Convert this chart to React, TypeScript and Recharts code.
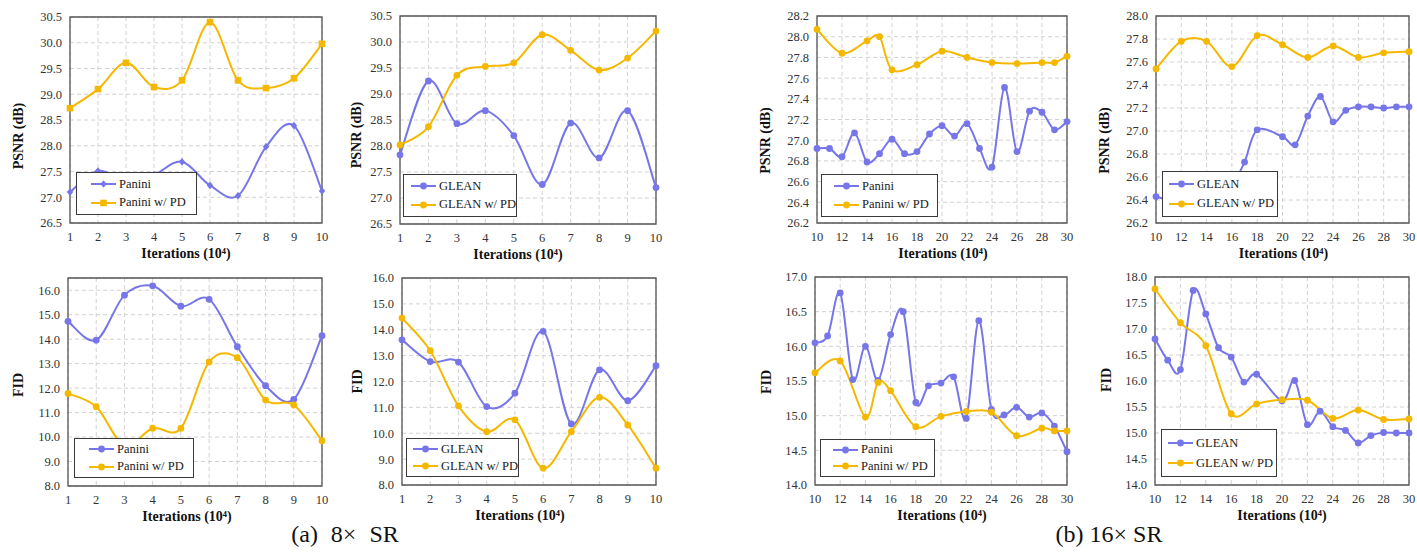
import { LineChart, Line, XAxis, YAxis, CartesianGrid, ReferenceArea, Legend } from "recharts";

const SERIF = '"Liberation Serif", "Times New Roman", serif';
const BLUE = "#7676E8";
const GOLD = "#F5B800";

// (a) 8x SR, iterations 1..10 (x10^4)
const ITER_8X = [1, 2, 3, 4, 5, 6, 7, 8, 9, 10];
const PANINI_8X_PSNR = [27.1, 27.51, 27.32, 27.44, 27.69, 27.23, 27.03, 27.98, 28.39, 27.12];
const PANINI_PD_8X_PSNR = [28.73, 29.1, 29.61, 29.14, 29.27, 30.4, 29.27, 29.12, 29.31, 29.98];
const GLEAN_8X_PSNR = [27.83, 29.25, 28.43, 28.68, 28.2, 27.26, 28.44, 27.77, 28.68, 27.2];
const GLEAN_PD_8X_PSNR = [28.02, 28.37, 29.36, 29.53, 29.6, 30.14, 29.84, 29.46, 29.69, 30.21];
const PANINI_8X_FID = [14.73, 13.96, 15.8, 16.18, 15.35, 15.63, 13.69, 12.1, 11.54, 14.14];
const PANINI_PD_8X_FID = [11.78, 11.24, 9.65, 10.36, 10.36, 13.07, 13.24, 11.51, 11.31, 9.85];
const GLEAN_8X_FID = [13.61, 12.77, 12.75, 11.03, 11.55, 13.94, 10.36, 12.45, 11.26, 12.61];
const GLEAN_PD_8X_FID = [14.45, 13.19, 11.06, 10.06, 10.52, 8.65, 10.06, 11.39, 10.32, 8.65];

// (b) 16x SR, iterations 10..30 (x10^4)
const ITER_16X = [10, 11, 12, 13, 14, 15, 16, 17, 18, 19, 20, 21, 22, 23, 24, 25, 26, 27, 28, 29, 30];
const PANINI_16X_PSNR = [26.92, 26.92, 26.84, 27.07, 26.79, 26.87, 27.01, 26.87, 26.89, 27.06, 27.14, 27.04, 27.16, 26.92, 26.74, 27.51, 26.89, 27.28, 27.27, 27.1, 27.18];
const PANINI_PD_16X_PSNR = [28.07, null, 27.84, null, 27.96, 28.0, 27.68, null, 27.73, null, 27.86, null, 27.8, null, 27.75, null, 27.74, null, 27.75, 27.75, 27.81];
const GLEAN_16X_PSNR = [26.43, 26.4, 26.38, 26.42, 26.45, 26.49, 26.53, 26.73, 27.01, null, 26.95, 26.88, 27.13, 27.3, 27.08, 27.18, 27.21, 27.21, 27.2, 27.21, 27.21];
const GLEAN_PD_16X_PSNR = [27.54, null, 27.78, null, 27.78, null, 27.56, null, 27.83, null, 27.75, null, 27.64, null, 27.74, null, 27.64, null, 27.68, null, 27.69];
const PANINI_16X_FID = [16.05, 16.15, 16.77, 15.52, 16.0, 15.51, 16.17, 16.5, 15.19, 15.43, 15.47, 15.56, 14.96, 16.37, 15.09, 15.01, 15.12, 14.98, 15.04, 14.85, 14.48];
const PANINI_PD_16X_FID = [15.62, null, 15.79, null, 14.98, 15.48, 15.36, null, 14.84, null, 14.99, null, 15.06, null, 15.05, null, 14.71, null, 14.82, 14.78, 14.78];
const GLEAN_16X_FID = [16.81, 16.4, 16.22, 17.74, 17.29, 16.64, 16.46, 15.98, 16.13, null, 15.62, 16.01, 15.16, 15.42, 15.12, 15.05, 14.81, 14.95, 15.01, 15.0, 15.0];
const GLEAN_PD_16X_FID = [17.77, null, 17.12, null, 16.68, null, 15.37, null, 15.56, null, 15.64, null, 15.63, null, 15.28, null, 15.44, null, 15.26, null, 15.27];

// tick labels
const ITER_16X_TICKS = [10, 12, 14, 16, 18, 20, 22, 24, 26, 28, 30];
const PSNR_8X_TICKS = [26.5, 27, 27.5, 28, 28.5, 29, 29.5, 30, 30.5];
const FID_8X_TICKS = [8, 9, 10, 11, 12, 13, 14, 15, 16];
const PANINI_PSNR_16X_TICKS = [26.2, 26.4, 26.6, 26.8, 27, 27.2, 27.4, 27.6, 27.8, 28, 28.2];
const GLEAN_PSNR_16X_TICKS = [26.2, 26.4, 26.6, 26.8, 27, 27.2, 27.4, 27.6, 27.8, 28];
const PANINI_FID_16X_TICKS = [14, 14.5, 15, 15.5, 16, 16.5, 17];
const GLEAN_FID_16X_TICKS = [14, 14.5, 15, 15.5, 16, 16.5, 17, 17.5, 18];

// Excel-like smoothed line (Catmull-Rom through the points)
const smooth = (context: any) => {
  let pts: number[][] = [];
  return {
    areaStart() {},
    areaEnd() {},
    lineStart() {
      pts = [];
    },
    lineEnd() {
      const n = pts.length;
      if (!n) return;
      context.moveTo(pts[0][0], pts[0][1]);
      for (let i = 0; i < n - 1; i++) {
        const p0 = pts[Math.max(i - 1, 0)];
        const p1 = pts[i];
        const p2 = pts[i + 1];
        const p3 = pts[Math.min(i + 2, n - 1)];
        context.bezierCurveTo(
          p1[0] + (p2[0] - p0[0]) / 6, p1[1] + (p2[1] - p0[1]) / 6,
          p2[0] - (p3[0] - p1[0]) / 6, p2[1] - (p3[1] - p1[1]) / 6,
          p2[0], p2[1]
        );
      }
    },
    point(x: number, y: number) {
      pts.push([+x, +y]);
    },
  };
};

type Shape = "circle" | "square" | "diamond";
type Series = { key: string; name: string; color: string; shape: Shape; values: (number | null)[] };

function Marker({ shape, cx, cy, color }: { shape: Shape; cx: number; cy: number; color: string }) {
  if (shape === "square") return <rect x={cx - 3.3} y={cy - 3.3} width={6.6} height={6.6} fill={color} />;
  if (shape === "diamond")
    return <polygon points={`${cx},${cy - 3.8} ${cx + 3.2},${cy} ${cx},${cy + 3.8} ${cx - 3.2},${cy}`} fill={color} />;
  return <circle cx={cx} cy={cy} r={3.4} fill={color} />;
}

function LegendBox({ series, w, h, pad }: { series: Series[]; w: number; h: number; pad: number }) {
  return (
    <div
      style={{
        boxSizing: "border-box", width: w, height: h, border: "1.3px solid #3a3a3a", background: "#fff",
        paddingLeft: pad, display: "flex", flexDirection: "column", justifyContent: "space-evenly",
        fontFamily: SERIF, fontSize: 12.5, color: "#1a1a1a",
      }}
    >
      {series.map((s) => (
        <div key={s.key} style={{ display: "flex", alignItems: "center", height: 14 }}>
          <svg width={25} height={10} style={{ marginRight: 3, flex: "none" }}>
            <line x1={0} y1={5} x2={25} y2={5} stroke={s.color} strokeWidth={2} />
            <Marker shape={s.shape} cx={12.5} cy={5} color={s.color} />
          </svg>
          <span style={{ whiteSpace: "nowrap" }}>{s.name}</span>
        </div>
      ))}
    </div>
  );
}

type PanelProps = {
  plot: { x: number; y: number; w: number; h: number };
  xs: number[];
  xTicks: number[];
  yDomain: number[];
  yTicks: number[];
  yTitle: string;
  yTitleOffset: number;
  yTitleDy: number;
  xTitleDx: number;
  series: Series[];
  legend: { x: number; y: number; w: number; h: number; pad: number };
};

const L = 70, T = 10, R = 12, B = 44;
const TICK = { fontSize: 12.5, fontFamily: SERIF, fill: "#333" };
const TITLE = { fontSize: 14, fontFamily: SERIF, fontWeight: 700, fill: "#111" };

function Panel({ plot, xs, xTicks, yDomain, yTicks, yTitle, yTitleOffset, yTitleDy, xTitleDx, series, legend }: PanelProps) {
  const rows = xs.map((x, i) => {
    const r: Record<string, number | null> = { x };
    series.forEach((s) => (r[s.key] = s.values[i]));
    return r;
  });
  const left = plot.x - L;
  const top = plot.y - T;
  const xMin = xTicks[0];
  const xMax = xTicks[xTicks.length - 1];

  return (
    <div style={{ position: "absolute", left, top }}>
      <LineChart width={plot.w + L + R} height={plot.h + T + B} data={rows} margin={{ top: T, right: R, bottom: 0, left: 0 }}>
        <CartesianGrid stroke="#d2d2d2" strokeDasharray="4 3" />
        <XAxis
          dataKey="x" type="number" domain={[xMin, xMax]} ticks={xTicks} interval={0} height={B}
          axisLine={false} tickLine={false} tickSize={6} tickMargin={3} tick={TICK}
          label={{
            content: () => (
              <text x={L + plot.w / 2 + xTitleDx} y={T + plot.h + 30} textAnchor="middle" dominantBaseline="central" style={TITLE}>
                Iterations (10⁴)
              </text>
            ),
          }}
        />
        <YAxis
          type="number" domain={yDomain} ticks={yTicks} interval={0} width={L}
          axisLine={false} tickLine={false} tickSize={6} tickMargin={2} tick={TICK}
          tickFormatter={(v: number) => v.toFixed(1)}
          label={{
            content: () => {
              const cx = L - yTitleOffset;
              const cy = T + plot.h / 2 + yTitleDy;
              return (
                <text x={cx} y={cy} transform={`rotate(-90 ${cx} ${cy})`} textAnchor="middle" dominantBaseline="central" style={TITLE}>
                  {yTitle}
                </text>
              );
            },
          }}
        />
        <ReferenceArea x1={xMin} x2={xMax} y1={yDomain[0]} y2={yDomain[1]} fill="none" stroke="#555" strokeWidth={1.3} ifOverflow="visible" />
        {series.map((s) => (
          <Line
            key={s.key}
            dataKey={s.key}
            name={s.name}
            type={smooth as any}
            stroke={s.color}
            strokeWidth={2}
            connectNulls
            isAnimationActive={false}
            activeDot={false}
            dot={(p: any) =>
              p.value == null || p.cx == null || p.cy == null ? (
                <g key={p.index} />
              ) : (
                <Marker key={p.index} shape={s.shape} cx={p.cx} cy={p.cy} color={s.color} />
              )
            }
          />
        ))}
        <Legend
          layout="vertical"
          align="center"
          verticalAlign="middle"
          wrapperStyle={{ left: legend.x - left, top: legend.y - top, width: legend.w, height: legend.h }}
          content={() => <LegendBox series={series} w={legend.w} h={legend.h} pad={legend.pad} />}
        />
      </LineChart>
    </div>
  );
}

const pair = (
  a: string, b: string, av: (number | null)[], bv: (number | null)[], shapes: Shape[] = ["circle", "circle"]
): Series[] => [
  { key: "base", name: a, color: BLUE, shape: shapes[0], values: av },
  { key: "pd", name: b, color: GOLD, shape: shapes[1], values: bv },
];

const CAPTION = { position: "absolute" as const, width: 240, top: 521, textAlign: "center" as const, fontFamily: SERIF, fontSize: 24, lineHeight: "26px", color: "#111" };

export default function App() {
  return (
    <div style={{ position: "absolute", left: 0, top: 0, width: 1417, height: 552, background: "#fff", overflow: "hidden" }}>
      <Panel
        plot={{ x: 70, y: 17, w: 252, h: 206 }} xs={ITER_8X} xTicks={ITER_8X}
        yDomain={[26.5, 30.5]} yTicks={PSNR_8X_TICKS} yTitle="PSNR (dB)" yTitleOffset={52} yTitleDy={16} xTitleDx={-10}
        series={pair("Panini", "Panini w/ PD", PANINI_8X_PSNR, PANINI_PD_8X_PSNR, ["diamond", "square"])}
        legend={{ x: 76, y: 172, w: 121, h: 43, pad: 14 }}
      />
      <Panel
        plot={{ x: 400, y: 16, w: 256, h: 208 }} xs={ITER_8X} xTicks={ITER_8X}
        yDomain={[26.5, 30.5]} yTicks={PSNR_8X_TICKS} yTitle="PSNR (dB)" yTitleOffset={44} yTitleDy={15} xTitleDx={-10}
        series={pair("GLEAN", "GLEAN w/ PD", GLEAN_8X_PSNR, GLEAN_PD_8X_PSNR)}
        legend={{ x: 403, y: 174, w: 114, h: 43, pad: 7 }}
      />
      <Panel
        plot={{ x: 68, y: 278, w: 254, h: 208 }} xs={ITER_8X} xTicks={ITER_8X}
        yDomain={[8, 16.5]} yTicks={FID_8X_TICKS} yTitle="FID" yTitleOffset={50} yTitleDy={3} xTitleDx={-8}
        series={pair("Panini", "Panini w/ PD", PANINI_8X_FID, PANINI_PD_8X_FID)}
        legend={{ x: 74, y: 438, w: 120, h: 40, pad: 14 }}
      />
      <Panel
        plot={{ x: 402, y: 278, w: 254, h: 207 }} xs={ITER_8X} xTicks={ITER_8X}
        yDomain={[8, 16]} yTicks={FID_8X_TICKS} yTitle="FID" yTitleOffset={45} yTitleDy={0} xTitleDx={-9}
        series={pair("GLEAN", "GLEAN w/ PD", GLEAN_8X_FID, GLEAN_PD_8X_FID)}
        legend={{ x: 406, y: 438, w: 113, h: 39, pad: 6 }}
      />
      <Panel
        plot={{ x: 817, y: 16, w: 250, h: 207 }} xs={ITER_16X} xTicks={ITER_16X_TICKS}
        yDomain={[26.2, 28.2]} yTicks={PANINI_PSNR_16X_TICKS} yTitle="PSNR (dB)" yTitleOffset={52} yTitleDy={21} xTitleDx={1}
        series={pair("Panini", "Panini w/ PD", PANINI_16X_PSNR, PANINI_PD_16X_PSNR)}
        legend={{ x: 821, y: 174, w: 117, h: 43, pad: 12 }}
      />
      <Panel
        plot={{ x: 1156, y: 16, w: 253, h: 207 }} xs={ITER_16X} xTicks={ITER_16X_TICKS}
        yDomain={[26.2, 28.0]} yTicks={GLEAN_PSNR_16X_TICKS} yTitle="PSNR (dB)" yTitleOffset={52} yTitleDy={21} xTitleDx={1}
        series={pair("GLEAN", "GLEAN w/ PD", GLEAN_16X_PSNR, GLEAN_PD_16X_PSNR)}
        legend={{ x: 1162, y: 171, w: 116, h: 46, pad: 6 }}
      />
      <Panel
        plot={{ x: 815, y: 277, w: 252, h: 208 }} xs={ITER_16X} xTicks={ITER_16X_TICKS}
        yDomain={[14, 17]} yTicks={PANINI_FID_16X_TICKS} yTitle="FID" yTitleOffset={49} yTitleDy={1} xTitleDx={1}
        series={pair("Panini", "Panini w/ PD", PANINI_16X_FID, PANINI_PD_16X_FID)}
        legend={{ x: 820, y: 439, w: 115, h: 38, pad: 12 }}
      />
      <Panel
        plot={{ x: 1155, y: 277, w: 254, h: 208 }} xs={ITER_16X} xTicks={ITER_16X_TICKS}
        yDomain={[14, 18]} yTicks={GLEAN_FID_16X_TICKS} yTitle="FID" yTitleOffset={49} yTitleDy={-1} xTitleDx={0}
        series={pair("GLEAN", "GLEAN w/ PD", GLEAN_16X_FID, GLEAN_PD_16X_FID)}
        legend={{ x: 1161, y: 429, w: 116, h: 48, pad: 6 }}
      />
      <div style={{ ...CAPTION, left: 225, wordSpacing: 7 }}>(a) 8× SR</div>
      <div style={{ ...CAPTION, left: 989 }}>(b) 16× SR</div>
    </div>
  );
}
